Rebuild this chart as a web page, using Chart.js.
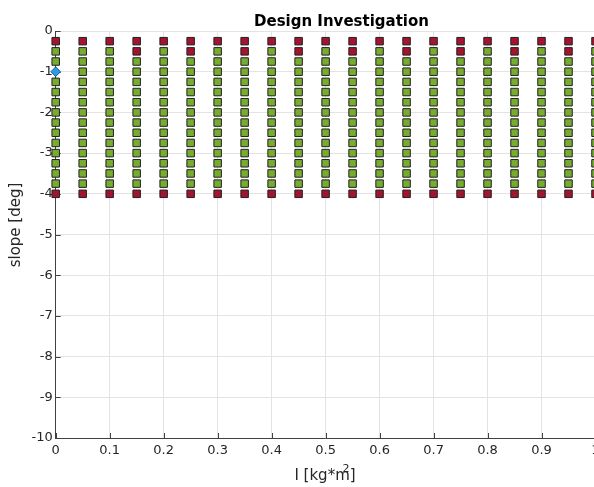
<!DOCTYPE html>
<html><head><meta charset="utf-8">
<script src="https://cdn.jsdelivr.net/npm/chart.js@4.4.0/dist/chart.umd.min.js"></script>
<style>html,body{margin:0;padding:0;background:#fff;overflow:hidden}#wrap{width:610px;height:487px}canvas{width:610px;height:487px}</style>
</head><body><div id="wrap"><canvas id="c" width="610" height="487"></canvas></div>
<script>
// ---- data ----
const inertiaValues = [0, 0.05, 0.1, 0.15, 0.2, 0.25, 0.3, 0.35, 0.4, 0.45, 0.5, 0.55, 0.6, 0.65, 0.7, 0.75, 0.8, 0.85, 0.9, 0.95, 1];
const slopeValues = [-0.25, -0.5, -0.75, -1, -1.25, -1.5, -1.75, -2, -2.25, -2.5, -2.75, -3, -3.25, -3.5, -3.75, -4];
const infeasibleRows = [-0.25, -4];
const partialRowSlope = -0.5;
const partialRowInfeasibleInertia = [0.15, 0.25, 0.35, 0.45, 0.55, 0.65, 0.75, 0.85, 0.95];
const baselineInertia = [0];
const baselineSlope = [-1];
const xTickValues = [0, 0.1, 0.2, 0.3, 0.4, 0.5, 0.6, 0.7, 0.8, 0.9, 1];
const yTickValues = [0, -1, -2, -3, -4, -5, -6, -7, -8, -9, -10];

// ---- build tables ----
const isBaseline = (i, s) => baselineInertia.some((b, k) => b === i && baselineSlope[k] === s);
const isInfeasible = (i, s) => infeasibleRows.includes(s) || (s === partialRowSlope && partialRowInfeasibleInertia.includes(i));
const redPts = [], greenPts = [];
inertiaValues.forEach(i => slopeValues.forEach(s => {
  if (isBaseline(i, s)) return;
  (isInfeasible(i, s) ? redPts : greenPts).push({x: i, y: s});
}));
const basePts = baselineInertia.map((i, k) => ({x: i, y: baselineSlope[k]}));

const FONT = '"DejaVu Sans", sans-serif';
const AX = '#404040';

const tickMarks = {
  id: 'tickMarks',
  beforeDatasetsDraw(chart) {
    const {ctx, chartArea: a, scales: {x, y}} = chart;
    ctx.save();
    ctx.strokeStyle = AX; ctx.lineWidth = 1;
    ctx.beginPath();
    xTickValues.forEach(v => { const p = Math.round(x.getPixelForValue(v)) + 0.5; ctx.moveTo(p, a.bottom); ctx.lineTo(p, a.bottom - 5); });
    yTickValues.forEach(v => { const p = Math.round(y.getPixelForValue(v)) + 0.5; ctx.moveTo(a.left, p); ctx.lineTo(a.left + 5, p); });
    ctx.stroke();
    ctx.restore();
  }
};
const texts = {
  id: 'texts',
  afterDraw(chart) {
    const {ctx} = chart;
    ctx.save();
    ctx.fillStyle = '#000';
    ctx.textAlign = 'center'; ctx.textBaseline = 'alphabetic';
    ctx.font = 'bold 15px ' + FONT;
    ctx.fillText('Design Investigation', 341.5, 26);
    ctx.fillStyle = '#262626';
    ctx.font = '15px ' + FONT;
    ctx.fillText('I [kg*m]', 325, 480);
    ctx.font = '11px ' + FONT;
    ctx.fillText('2', 346, 472);
    ctx.font = '15px ' + FONT;
    ctx.translate(16, 225);
    ctx.rotate(-Math.PI / 2);
    ctx.textBaseline = 'middle';
    ctx.fillText('slope [deg]', 0, 0);
    ctx.restore();
  }
};

const common = (extra) => Object.assign({
  showLine: false, clip: false, borderWidth: 1, borderColor: '#222222',
  pointStyle: 'rect', pointRadius: 5.3, pointHoverRadius: 5.3
}, extra);

new Chart(document.getElementById('c'), {
  type: 'scatter',
  data: {
    datasets: [
      common({label: 'baseline', data: basePts, pointStyle: 'rectRot', pointRadius: 4.8, pointHoverRadius: 4.8,
              backgroundColor: '#2A9DEA', borderColor: '#16548c'}),
      common({label: 'infeasible', data: redPts, backgroundColor: '#A2142F'}),
      common({label: 'feasible', data: greenPts, backgroundColor: '#77AC30'})
    ]
  },
  options: {
    responsive: false, animation: false, devicePixelRatio: 1,
    layout: {padding: {left: 0, top: 31, right: 14.5, bottom: 0}},
    plugins: {legend: {display: false}, tooltip: {enabled: false}, title: {display: false}},
    scales: {
      x: {
        type: 'linear', min: 0, max: 1,
        afterBuildTicks: s => { s.ticks = xTickValues.map(v => ({value: v})); },
        afterFit: s => { s.height = 49; },
        ticks: {font: {family: FONT, size: 13}, color: '#262626', padding: 5, maxRotation: 0, autoSkip: false,
                callback: v => String(v)},
        grid: {color: '#e3e3e3', drawTicks: false},
        border: {display: true, color: AX, width: 1}
      },
      y: {
        type: 'linear', min: -10, max: 0,
        afterBuildTicks: s => { s.ticks = yTickValues.map(v => ({value: v})); },
        afterFit: s => { s.width = 55.7; },
        ticks: {font: {family: FONT, size: 13}, color: '#262626', padding: 3, autoSkip: false,
                callback: v => String(v)},
        grid: {color: '#e3e3e3', drawTicks: false},
        border: {display: true, color: AX, width: 1}
      }
    }
  },
  plugins: [tickMarks, texts]
});
</script></body></html>
